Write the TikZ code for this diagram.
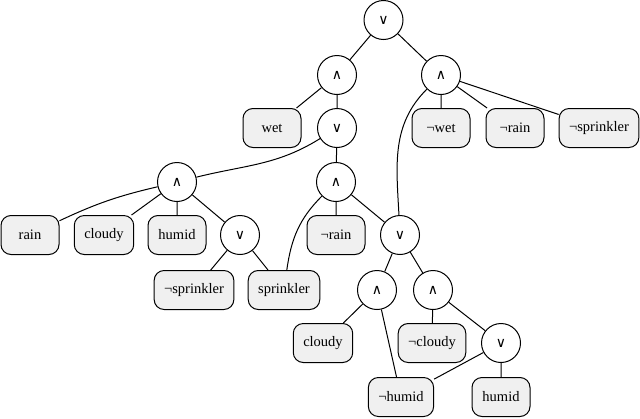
\documentclass[tikz,border=0pt]{standalone}
\usepackage{fontspec}
\setmainfont{Liberation Serif}
\newfontfamily\opfont{DejaVu Sans}
\tikzset{
  op/.style={circle,draw,minimum size=39pt,inner sep=0pt,
    font=\opfont\fontsize{14}{14}\selectfont},
  lit/.style={draw,rounded corners=10pt,fill=gray!12,minimum width=58pt,
    minimum height=39pt,inner xsep=10pt,font=\fontsize{14.5}{14.5}\selectfont}
}

\begin{document}
\begin{tikzpicture}[x=1pt,y=1pt,line width=1pt]
  \useasboundingbox (0,0) rectangle (640,-418);
  \node[op] (or0) at (383.5,-20) {∨};
  \node[op] (and1) at (337,-75) {∧};
  \node[op] (and2) at (441,-75) {∧};
  \node[lit] (wet) at (272,-128) {wet};
  \node[op] (or1) at (337,-128) {∨};
  \node[lit] (nwet) at (441,-128) {¬wet};
  \node[lit] (nrain1) at (515,-128) {¬rain};
  \node[lit] (nsprink1) at (599,-128) {¬sprinkler};
  \node[op] (and3) at (177,-182) {∧};
  \node[op] (and4) at (336,-182) {∧};
  \node[lit] (rain) at (30,-235) {rain};
  \node[lit] (cloudy1) at (104,-235) {cloudy};
  \node[lit] (humid1) at (177,-235) {humid};
  \node[op] (or2) at (240,-235) {∨};
  \node[lit] (nrain2) at (336,-235) {¬rain};
  \node[op] (or3) at (400,-235) {∨};
  \node[lit] (nsprink2) at (194,-290) {¬sprinkler};
  \node[lit] (sprink) at (284,-290) {sprinkler};
  \node[op] (and5) at (377,-290) {∧};
  \node[op] (and6) at (433,-290) {∧};
  \node[lit] (cloudy2) at (323,-343) {cloudy};
  \node[lit] (ncloudy) at (432,-343) {¬cloudy};
  \node[op] (or4) at (501,-343) {∨};
  \node[lit] (nhumid) at (401,-397) {¬humid};
  \node[lit] (humid2) at (501,-397) {humid};

  \draw (or0) -- (and1) (or0) -- (and2);
  \draw (and1) -- (wet) (and1) -- (or1);
  \draw (and2) -- (nwet) (and2) -- (nrain1) (and2) -- (nsprink1);
  \draw (and2) to[out=-135,in=93] (or3);
  \draw (or1) to[out=-148,in=14] (and3);
  \draw (or1) -- (and4);
  \draw (and3) to[bend right=6] (rain);
  \draw (and3) -- (cloudy1) (and3) -- (humid1) (and3) -- (or2);
  \draw (or2) -- (nsprink2) (or2) -- (sprink);
  \draw (and4) to[out=-135,in=82] (sprink);
  \draw (and4) -- (nrain2) (and4) -- (or3);
  \draw (or3) -- (and5) (or3) -- (and6);
  \draw (and5) -- (cloudy2) (and5) -- (nhumid);
  \draw (and6) -- (ncloudy) (and6) -- (or4);
  \draw (or4) -- (nhumid) (or4) -- (humid2);
\end{tikzpicture}
\end{document}
